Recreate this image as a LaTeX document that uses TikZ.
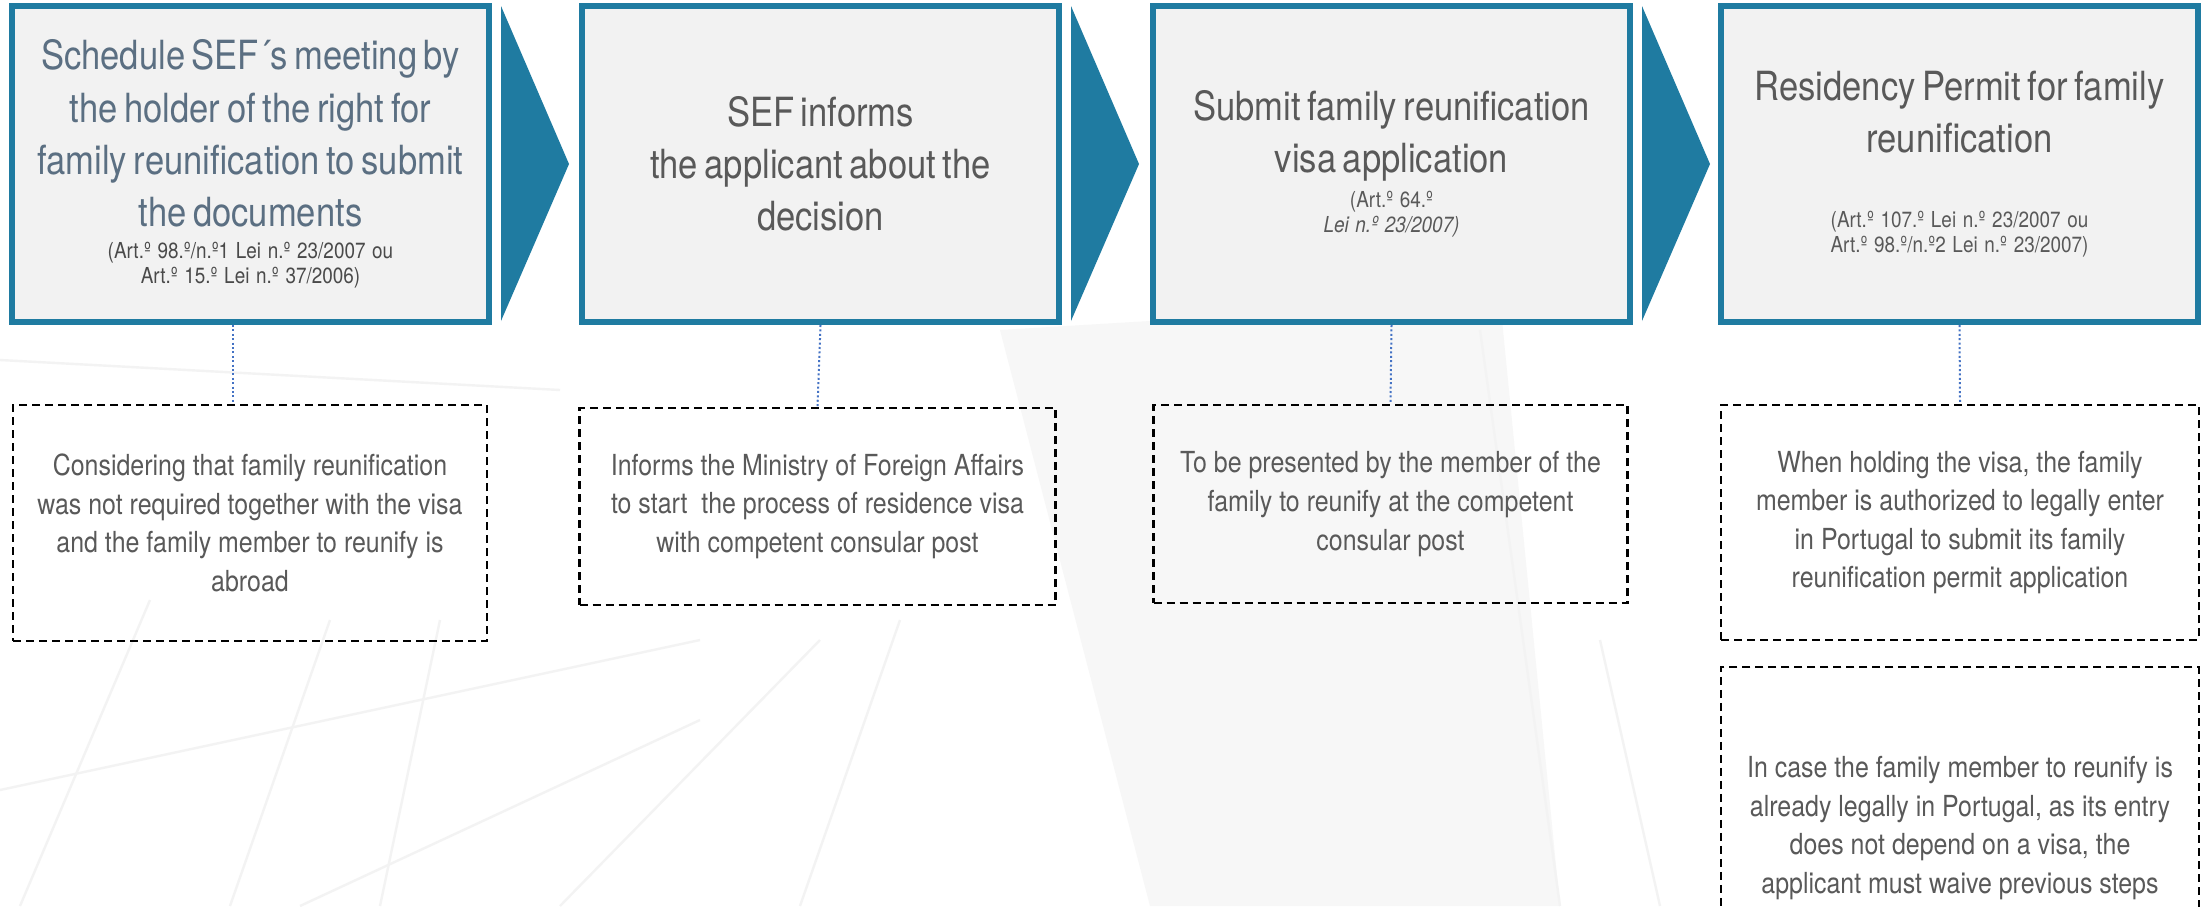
\documentclass[tikz,border=0pt]{standalone}
\usepackage{fontspec}
\setmainfont{TeX Gyre Heros}[FakeStretch=0.86]
\usetikzlibrary{calc}
\definecolor{stepblue}{HTML}{1F7BA1}
\definecolor{boxfill}{HTML}{F2F2F2}
\definecolor{txtgray}{HTML}{595959}
\definecolor{titleblue}{HTML}{5B6F82}
\definecolor{smallgray}{HTML}{4A4A4A}
\definecolor{dotblue}{HTML}{4472C4}
\definecolor{bgline}{HTML}{F3F3F3}
\definecolor{bgtint}{HTML}{F7F7F7}
\tikzset{
  stepbox/.style={draw=stepblue, line width=3pt, fill=boxfill, minimum width=238.5pt,
    minimum height=158pt, text width=232pt, align=center, text=txtgray, inner sep=0pt},
  notebox/.style={draw=black, line width=1.2pt, dash pattern=on 4pt off 2.5pt,
    align=center, text=txtgray, inner sep=0pt, font=\fontsize{14.5}{19.3}\selectfont},
  chevron/.style={fill=stepblue},
  link/.style={draw=dotblue, line width=1pt, dash pattern=on 1pt off 1.2pt},
  bgstroke/.style={draw=bgline, line width=1.2pt},
}
\newcommand{\ttlsize}{\fontsize{20.1}{26.1}\selectfont}
\newcommand{\smlsize}{\fontsize{11}{12.5}\selectfont}
\begin{document}
\begin{tikzpicture}[x=0.5pt,y=-0.5pt]
\path[clip] (0,0) rectangle (2206,906);
\fill[white] (0,0) rectangle (2206,906);
% faint background photo traces
\fill[bgtint] (1000,330) -- (1500,300) -- (1560,906) -- (1150,906) -- cycle;
\draw[bgstroke] (0,790) -- (700,640);
\draw[bgstroke] (20,906) -- (150,600);
\draw[bgstroke] (230,906) -- (330,620);
\draw[bgstroke] (380,906) -- (440,620);
\draw[bgstroke] (300,906) -- (700,720);
\draw[bgstroke] (0,360) -- (560,390);
\draw[bgstroke] (560,906) -- (820,640);
\draw[bgstroke] (800,906) -- (900,620);
\draw[bgstroke] (1560,906) -- (1480,330);
\draw[bgstroke] (1660,906) -- (1600,640);

% step boxes
\node[stepbox] (b1) at (250.5,164) {{\ttlsize\color{titleblue}Schedule SEF´s meeting by\\the holder of the right for\\family reunification to submit\\the documents\par}\vspace{3.5pt}{\smlsize\color{smallgray}(Art.º 98.º/n.º1 Lei n.º 23/2007 ou\\Art.º 15.º Lei n.º 37/2006)\par}};
\node[stepbox] (b2) at (820.5,164) {{\ttlsize SEF informs\\the applicant about the\\decision\par}};
\node[stepbox] (b3) at (1391.5,164) {{\ttlsize Submit family reunification\\visa application\par}\vspace{4pt}{\smlsize (Art.º 64.º\\\itshape Lei n.º 23/2007)\par}};
\node[stepbox] (b4) at (1959.5,164) {{\ttlsize Residency Permit for family\\reunification\par}\vspace{25pt}{\smlsize (Art.º 107.º Lei n.º 23/2007 ou\\Art.º 98.º/n.º2 Lei n.º 23/2007)\par}};

% chevrons
\foreach \b in {b1,b2,b3}{
  \fill[chevron] ($(\b.north east)+(9,3)$) -- ($(\b.east)+(77,0)$) -- ($(\b.south east)+(9,-4)$) -- cycle;
}

% note boxes
\node[notebox, minimum width=237pt, minimum height=118pt] (n1) at (250,523)
  {Considering that family reunification\\was not required together with the visa\\and the family member to reunify is\\abroad};
\node[notebox, minimum width=238pt, minimum height=98.5pt] (n2) at (817.5,506.5)
  {Informs the Ministry of Foreign Affairs\\to start\ \ the process of residence visa\\with competent consular post};
\node[notebox, minimum width=237pt, minimum height=99pt] (n3) at (1390.5,504)
  {To be presented by the member of the\\family to reunify at the competent\\consular post};
\node[notebox, minimum width=238.8pt, minimum height=117.3pt] (n4) at (1960,522.5)
  {When holding the visa, the family\\member is authorized to legally enter\\in Portugal to submit its family\\reunification permit application};
\node[notebox, minimum width=238.8pt, minimum height=161pt] (n5) at (1960,828)
  {In case the family member to reunify is\\already legally in Portugal, as its entry\\does not depend on a visa, the\\applicant must waive previous steps};

% dotted links
\coordinate (c1) at ([xshift=-9pt]b1.south);
\draw[link] (c1) -- (c1 |- n1.north);
\draw[link] (b2.south) -- (n2.north);
\draw[link] (b3.south) -- (n3.north);
\draw[link] (b4.south) -- (n4.north);
\end{tikzpicture}
\end{document}
